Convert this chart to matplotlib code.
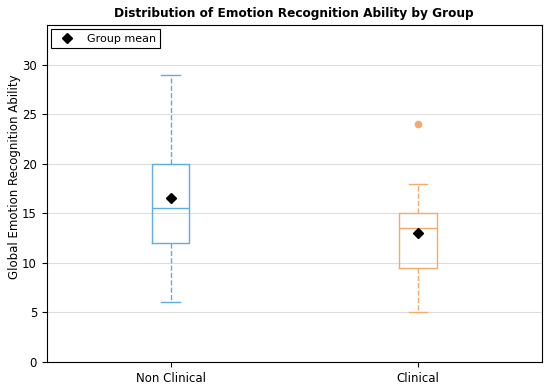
import matplotlib.pyplot as plt
from matplotlib.lines import Line2D

# Values
groups = ['Non Clinical', 'Clinical']
whislo = [6, 5]
q1 = [12, 9.5]
med = [15.5, 13.5]
q3 = [20, 15]
whishi = [29, 18]
means = [16.5, 13.0]
outliers = [[], [24]]
colors = ['#5DADE2', '#F5A96B']

stats = []
for i, g in enumerate(groups):
    stats.append(dict(label=g, whislo=whislo[i], q1=q1[i], med=med[i],
                      q3=q3[i], whishi=whishi[i], fliers=outliers[i]))

fig, ax = plt.subplots(figsize=(5.5, 3.85), dpi=100)

for i, s in enumerate(stats):
    c = colors[i]
    ax.bxp([s], positions=[i + 1], widths=0.15, showfliers=True,
           boxprops=dict(color=c, linewidth=1.0),
           medianprops=dict(color=c, linewidth=1.0),
           whiskerprops=dict(color=c, linewidth=1.0, linestyle='--'),
           capprops=dict(color=c, linewidth=1.0),
           flierprops=dict(marker='o', markerfacecolor=c, markeredgecolor=c,
                           markersize=4.5))
    ax.plot(i + 1, means[i], marker='D', color='black', markersize=5, zorder=5)

ax.set_xticks([1, 2])
ax.set_xticklabels(groups)
ax.set_xlim(0.5, 2.5)
ax.set_ylim(0, 34)
ax.yaxis.grid(True, color='#dddddd', linewidth=0.8)
ax.set_axisbelow(True)
ax.set_ylabel('Global Emotion Recognition Ability', fontsize=8.5)
ax.yaxis.set_label_coords(-0.053, 0.55)
ax.set_title('Distribution of Emotion Recognition Ability by Group',
             fontsize=8.7, fontweight='bold')
ax.tick_params(labelsize=8.5)

handle = Line2D([], [], marker='D', color='black', linestyle='None', markersize=5)
leg = ax.legend([handle], ['Group mean'], loc='upper left', fontsize=8,
                fancybox=False, edgecolor='black', framealpha=1,
                borderaxespad=0.4)
leg.get_frame().set_linewidth(0.8)

plt.subplots_adjust(left=0.085, right=0.985, top=0.935, bottom=0.06)
plt.savefig('out.png', dpi=100)
